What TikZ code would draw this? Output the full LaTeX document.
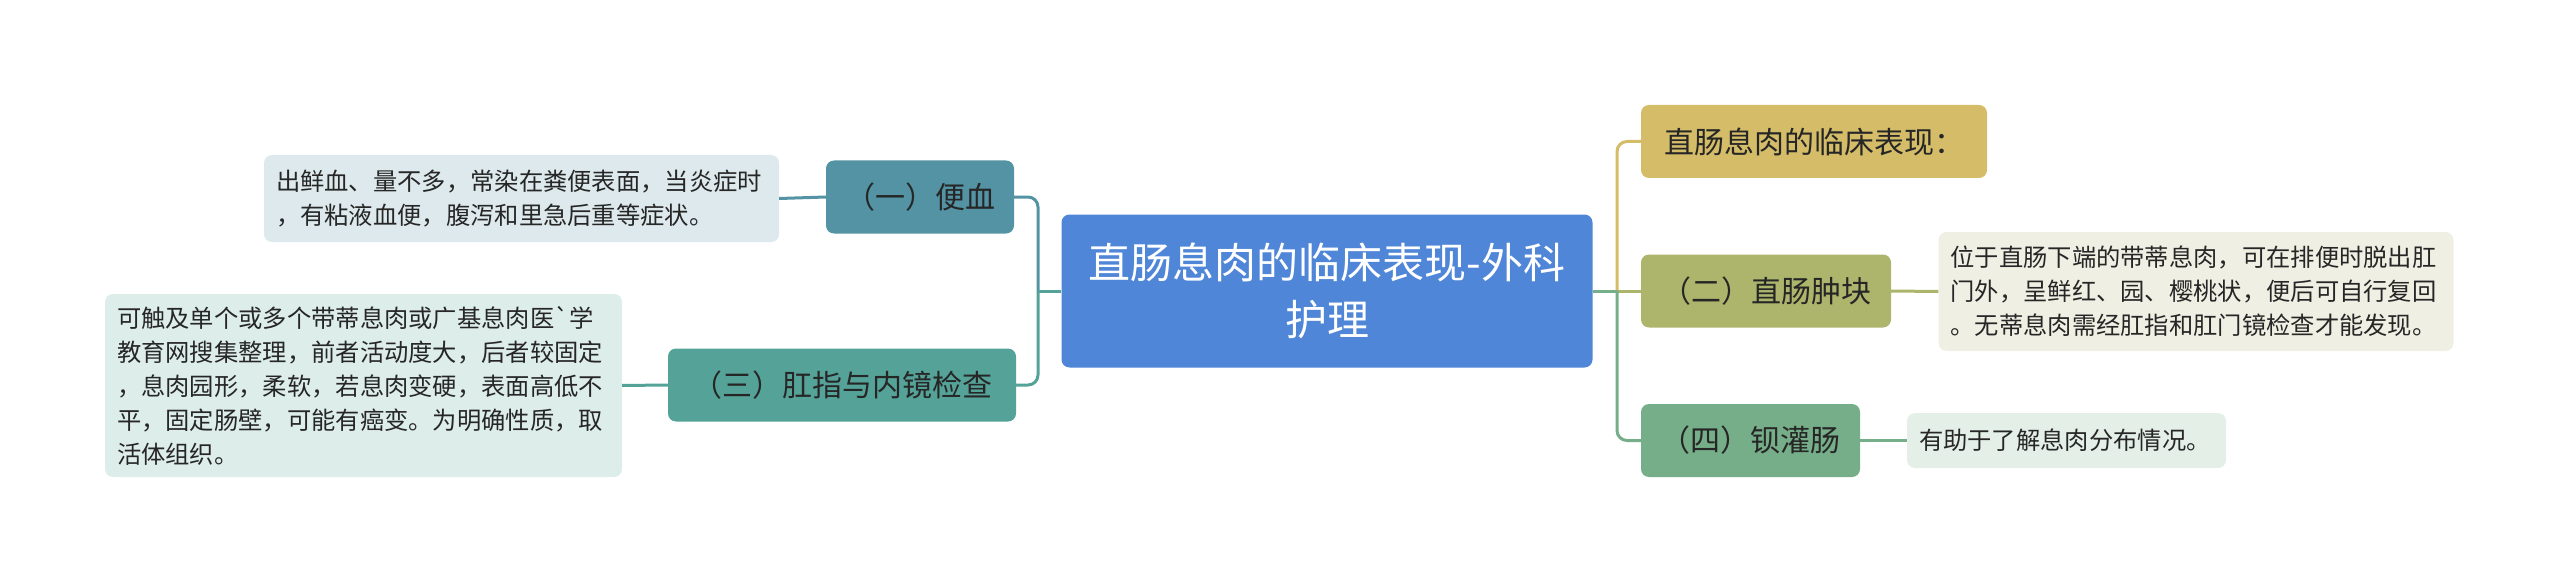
\documentclass[tikz,border=0pt]{standalone}
\usepackage{fontspec}
\newfontfamily\cjk[Ligatures=TeXOff]{Noto Sans CJK SC}
\definecolor{rootc}{RGB}{79,134,216}
\definecolor{c1}{RGB}{83,147,163}
\definecolor{c3}{RGB}{85,163,152}
\definecolor{ca}{RGB}{212,188,105}
\definecolor{c2}{RGB}{172,181,107}
\definecolor{c4}{RGB}{118,174,137}
\definecolor{f1}{RGB}{221,233,236}
\definecolor{f3}{RGB}{221,237,234}
\definecolor{f2}{RGB}{239,239,227}
\definecolor{f4}{RGB}{228,239,232}
\definecolor{txt}{RGB}{38,38,38}
\tikzset{
  box/.style={rectangle, rounded corners=8pt, inner sep=0pt, anchor=center},
  mainbox/.style={box, fill=rootc, text=white, font=\cjk\fontsize{42}{57}\selectfont, align=center},
  subbox/.style={box, text=txt, font=\cjk\fontsize{30}{36}\selectfont, minimum height=73pt},
  leafbox/.style={box, text=txt, font=\cjk\fontsize{24.3}{34}\selectfont, align=left, inner xsep=12pt},
  conn/.style={line width=3pt, rounded corners=10pt},
}
\begin{document}
\begin{tikzpicture}[x=1pt,y=-1pt]
\useasboundingbox (0,0) rectangle (2560,583);
% root
\node[mainbox, minimum width=531pt, minimum height=153pt] (root) at (1327,291) {直肠息肉的临床表现-外科\\护理};
% left side
\node[subbox, fill=c1, minimum width=188pt] (b1) at (920,197) {（一）便血};
\node[leafbox, fill=f1, text width=491pt, minimum height=87pt] (t1) at (521.5,198.5) {出鲜血、量不多，常染在粪便表面，当炎症时\\，有粘液血便，腹泻和里急后重等症状。};
\node[subbox, fill=c3, minimum width=348pt] (b3) at (842,385) {（三）肛指与内镜检查};
\node[leafbox, fill=f3, text width=493pt, minimum height=183pt] (t3) at (363.5,385.5) {可触及单个或多个带蒂息肉或广基息肉医`学\\教育网搜集整理，前者活动度大，后者较固定\\，息肉园形，柔软，若息肉变硬，表面高低不\\平，固定肠壁，可能有癌变。为明确性质，取\\活体组织。};
% right side
\node[subbox, fill=ca, minimum width=346pt] (a0) at (1814,141.5) {直肠息肉的临床表现：};
\node[subbox, fill=c2, minimum width=250pt] (b2) at (1766,291) {（二）直肠肿块};
\node[leafbox, fill=f2, text width=491pt, minimum height=119pt] (t2) at (2196,291.5) {位于直肠下端的带蒂息肉，可在排便时脱出肛\\门外，呈鲜红、园、樱桃状，便后可自行复回\\。无蒂息肉需经肛指和肛门镜检查才能发现。};
\node[subbox, fill=c4, minimum width=219pt] (b4) at (1750.5,440.5) {（四）钡灌肠};
\node[leafbox, fill=f4, text width=295pt, minimum height=55pt] (t4) at (2066.5,440.5) {有助于了解息肉分布情况。};
% junctions
\coordinate (jL) at (1038,291);
\coordinate (jR) at (1617,291);
% connectors left
\draw[conn, c1] (jL) |- (b1.east);
\draw[conn, c3] (jL) |- (b3.east);
\draw[conn, c3] (root.west) -- (jL);
\draw[conn, c1] (b1.west) -- (t1.east);
\draw[conn, c3] (b3.west) -- (t3.east);
% connectors right
\draw[conn, ca] (jR) |- (a0.west);
\draw[conn, c2] (jR) -- (b2.west);
\draw[conn, c4] (jR) |- (b4.west);
\draw[conn, c4] (root.east) -- (jR);
\draw[conn, c2] (b2.east) -- (t2.west);
\draw[conn, c4] (b4.east) -- (t4.west);
\end{tikzpicture}
\end{document}
